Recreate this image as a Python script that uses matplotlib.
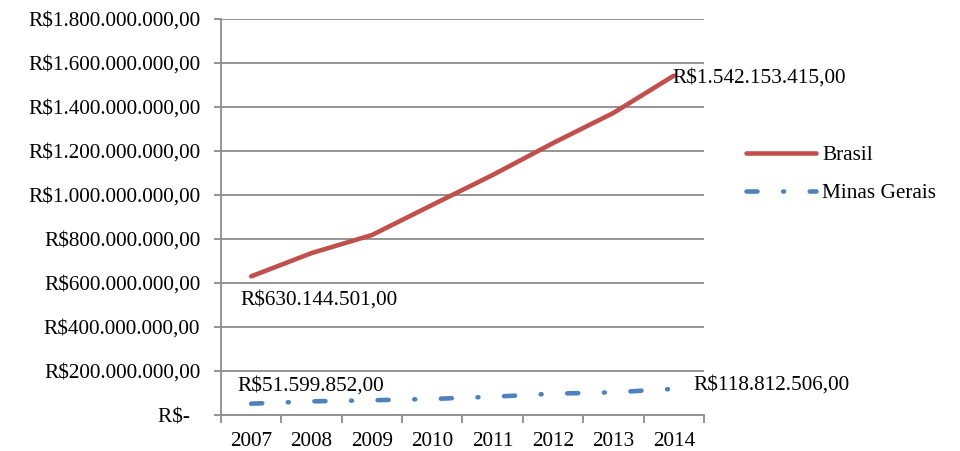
import matplotlib.pyplot as plt
import numpy as np

plt.rcParams['font.family'] = ['Liberation Serif', 'DejaVu Serif']

anos = ['2007', '2008', '2009', '2010', '2011', '2012', '2013', '2014']
brasil = [630144501.00, 736e6, 818e6, 955e6, 1091e6, 1236e6, 1373e6, 1542153415.00]
minas = [51599852.00, 62e6, 67e6, 73e6, 83e6, 97e6, 103e6, 118812506.00]
yticks = [0, 200e6, 400e6, 600e6, 800e6, 1000e6, 1200e6, 1400e6, 1600e6, 1800e6]
ytick_labels = ['R$-  ', 'R$200.000.000,00', 'R$400.000.000,00', 'R$600.000.000,00',
                'R$800.000.000,00', 'R$1.000.000.000,00', 'R$1.200.000.000,00',
                'R$1.400.000.000,00', 'R$1.600.000.000,00', 'R$1.800.000.000,00']

fs = 15.3
gray = '#8c8c8c'

fig = plt.figure(figsize=(9.6, 4.51), dpi=100)
ax = fig.add_axes([0.2302, 0.0798, 0.5031, 0.8781])
x = np.arange(len(anos))

ax.plot(x, brasil, color='#C0504D', lw=3.3, solid_capstyle='round', label='Brasil')
ax.plot(x, minas, color='#4F81BD', lw=3.3, dash_capstyle='round',
        dashes=(2.4, 5.6, 0.2, 5.6), label='Minas Gerais')

ax.set_xlim(-0.5, len(anos) - 0.5)
ax.set_ylim(0, 1800e6)
ax.set_yticks(yticks)
ax.set_yticklabels(ytick_labels, fontsize=fs)
ax.set_xticks(x)
ax.set_xticklabels(anos, fontsize=fs)
ax.set_xticks(np.arange(-0.5, len(anos)), minor=True)
ax.tick_params(axis='x', which='major', length=0, pad=12)
ax.tick_params(axis='x', which='minor', length=6, color=gray, width=1.3)
ax.tick_params(axis='y', length=5, color=gray, width=1.3, pad=10)
ax.yaxis.grid(True, color=gray, lw=1.3)
ax.set_axisbelow(True)
for s in ['top', 'right']:
    ax.spines[s].set_visible(False)
for s in ['left', 'bottom']:
    ax.spines[s].set_color(gray)
    ax.spines[s].set_linewidth(1.3)

ax.annotate('R$630.144.501,00', (x[0], brasil[0]), xytext=(-8, -10),
            textcoords='offset points', fontsize=fs, va='top', ha='left')
ax.annotate('R$1.542.153.415,00', (x[-1], brasil[-1]), xytext=(-1, -2),
            textcoords='offset points', fontsize=fs, va='center', ha='left')
ax.annotate('R$51.599.852,00', (x[0], minas[0]), xytext=(-10, 13),
            textcoords='offset points', fontsize=fs, va='center', ha='left')
ax.annotate('R$118.812.506,00', (x[-1], minas[-1]), xytext=(14, 3),
            textcoords='offset points', fontsize=fs, va='center', ha='left')

fig.legend(loc='upper left', bbox_to_anchor=(0.777, 0.678), frameon=False,
           fontsize=fs, handlelength=3.3, handletextpad=0.3, labelspacing=0.85,
           borderpad=0, borderaxespad=0)

fig.savefig('out.png', dpi=100)
